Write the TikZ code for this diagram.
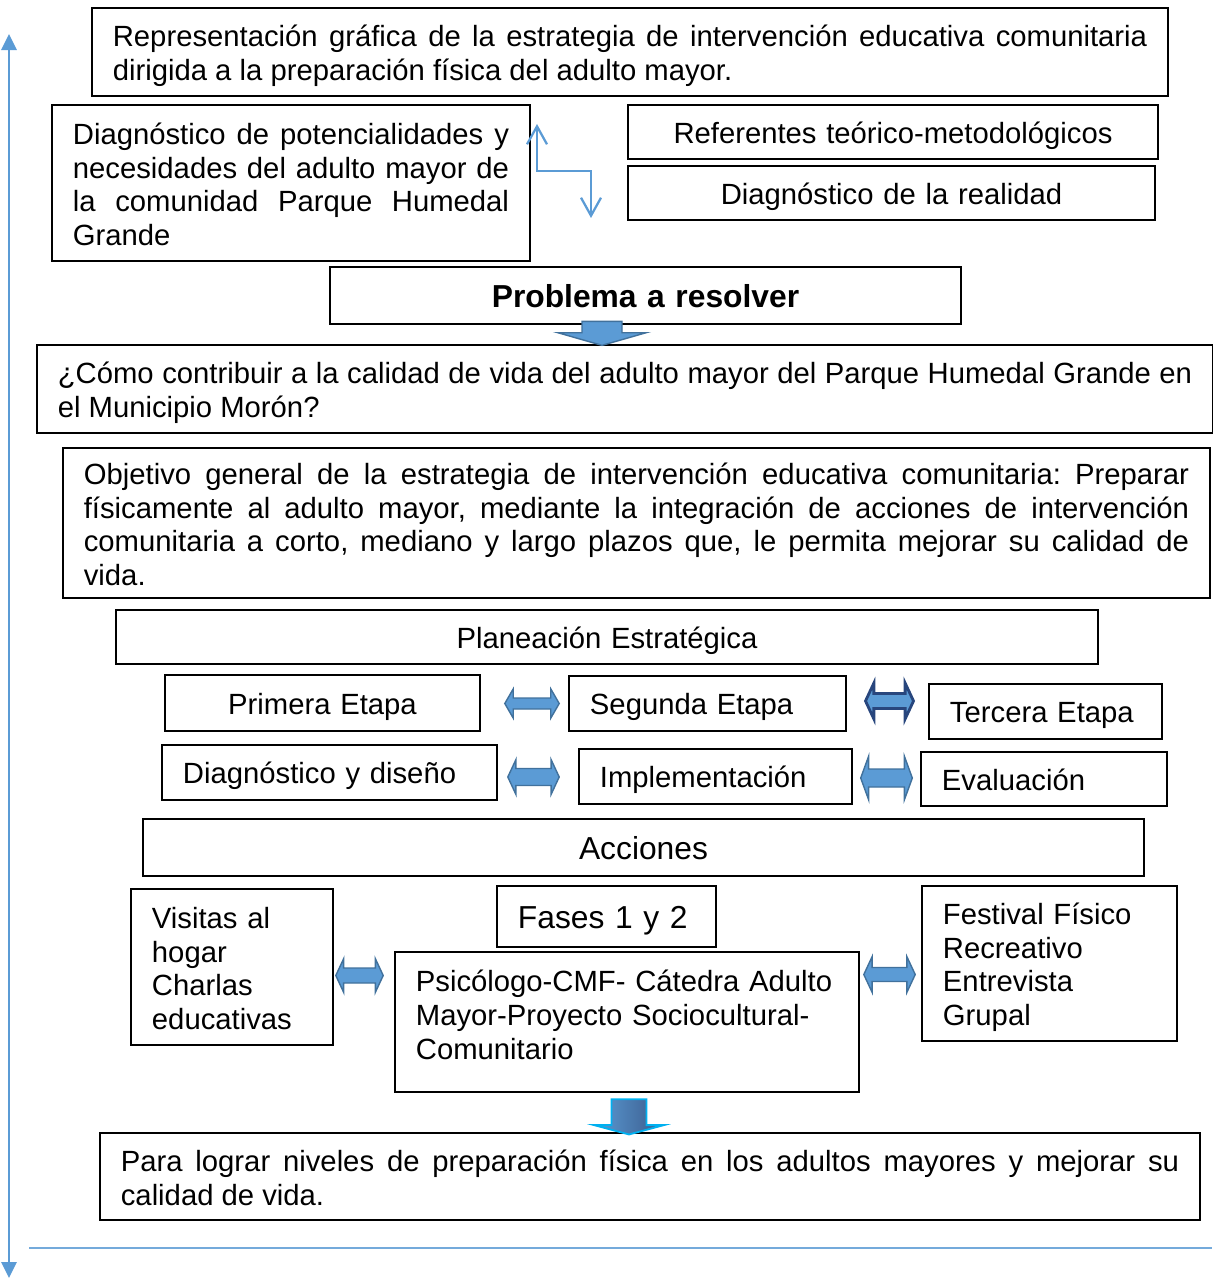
\documentclass[tikz,border=0pt]{standalone}
\usepackage{fontspec}
\setmainfont{Liberation Sans}
\usetikzlibrary{
	arrows.meta,
	shapes.arrows,
	calc
}
\definecolor{azul}{RGB}{91,155,213}
\definecolor{azulborde}{RGB}{65,113,156}
\definecolor{azuloscuro}{RGB}{40,70,125}
\definecolor{azulsombra}{RGB}{58,90,138}
\definecolor{celeste}{RGB}{0,176,240}
\hyphenpenalty=10000
\exhyphenpenalty=10000
\tolerance=9999
\frenchspacing
\newcommand{\puntal}{\lineskiplimit=-100pt\rule[-3.5pt]{0pt}{23.9pt}}
\newcommand{\puntalg}{\lineskiplimit=-100pt\rule[-4.6pt]{0pt}{26pt}}
\tikzset{
	caja/.style={draw, line width=1.3pt, inner xsep=0.525cm, inner ysep=0pt, font=\fontsize{20.8}{23.9}\selectfont,
		execute at begin node=\puntal, execute at end node=\puntal},
	cajagrande/.style={caja, font=\fontsize{22.6}{26}\selectfont,
		execute at begin node=\puntalg, execute at end node=\puntalg},
	flechadoble/.style={double arrow, draw=azulborde, fill=azul, line width=1pt, inner sep=0pt, double arrow head indent=0pt},
	flechabaja/.style={single arrow, rotate=-90, draw=azulborde, fill=azul, line width=1pt, inner sep=0pt, single arrow head indent=0pt},
	eje/.style={draw=azul, line width=2pt, {Triangle[length=0.4cm,width=0.375cm]}-{Triangle[length=0.4cm,width=0.375cm]}},
	codo/.style={draw=azul, line width=1.6pt, {Straight Barb[length=0.45cm,width=0.5cm]}-{Straight Barb[length=0.45cm,width=0.5cm]}},
	lineabase/.style={draw=azul!85, line width=1pt}
}
\begin{document}
\begin{tikzpicture}[x=0.025cm, y=-0.025cm]
	\useasboundingbox (0,0) rectangle (1212,1280);

	\node[caja, text width=25.85cm, minimum height=2.2cm, align=justify] (titulo) at (630,52) {Representación gráfica de la estrategia de intervención educativa comunitaria dirigida a la preparación física del adulto mayor.};
	\node[caja, text width=10.9cm, minimum height=3.9cm, align=justify] (diagpot) at (291,183) {Diagnóstico de potencialidades y necesidades del adulto mayor de la comunidad Parque Humedal Grande};
	\node[caja, text width=12.2cm, minimum height=1.35cm, align=center] (referentes) at (893,132) {Referentes teórico-metodológicos};
	\node[caja, text width=12.125cm, minimum height=1.35cm, align=center] (diagreal) at (891.5,193) {Diagnóstico de la realidad};
	\node[cajagrande, text width=14.725cm, minimum height=1.425cm, align=center, font=\fontsize{22.6}{26}\selectfont\bfseries] (problema) at (645.5,295.5) {Problema a resolver};
	\node[caja, text width=28.35cm, minimum height=2.2cm, align=justify] (pregunta) at (625,389) {¿Cómo contribuir a la calidad de vida del adulto mayor del Parque Humedal Grande en el Municipio Morón?};
	\node[caja, text width=27.625cm, minimum height=3.75cm, align=justify] (objetivo) at (636.5,523) {Objetivo general de la estrategia de intervención educativa comunitaria: Preparar físicamente al adulto mayor, mediante la integración de acciones de intervención comunitaria a corto, mediano y largo plazos que, le permita mejorar su calidad de vida.};
	\node[caja, text width=23.5cm, minimum height=1.35cm, align=center] (planeacion) at (607,637) {Planeación Estratégica};

	\node[caja, text width=6.825cm, minimum height=1.4cm, align=center] (etapa1) at (322.5,703) {Primera Etapa};
	\node[caja, text width=5.875cm, minimum height=1.375cm, align=left] (etapa2) at (707.5,703.5) {Segunda Etapa};
	\node[caja, text width=4.775cm, minimum height=1.375cm, align=left] (etapa3) at (1045.5,711.5) {Tercera Etapa};
	\node[caja, text width=7.325cm, minimum height=1.375cm, align=left] (diseno) at (329.5,772.5) {Diagnóstico y diseño};
	\node[caja, text width=5.775cm, minimum height=1.375cm, align=left] (implem) at (715.5,776.5) {Implementación};
	\node[caja, text width=5.1cm, minimum height=1.35cm, align=left] (evaluac) at (1044,779) {Evaluación};

	\node[cajagrande, text width=23.975cm, minimum height=1.425cm, align=center] (acciones) at (643.5,847.5) {Acciones};
	\node[caja, text width=4cm, minimum height=3.9cm, align=left] (visitas) at (232,967) {Visitas al\\hogar\\Charlas\\educativas};
	\node[cajagrande, text width=4.425cm, minimum height=1.525cm, align=left] (fases) at (606.5,916.5) {Fases 1 y 2};
	\node[caja, text width=10.55cm, minimum height=3.5cm, align=left] (psicologo) at (627,1022) {Psicólogo-CMF- Cátedra Adulto\\Mayor-Proyecto Sociocultural-\\Comunitario\\[-0.5\baselineskip]\mbox{}};
	\node[caja, text width=5.325cm, minimum height=3.875cm, align=left] (festival) at (1049.5,963.5) {Festival Físico\\Recreativo\\Entrevista\\Grupal};
	\node[caja, text width=26.45cm, minimum height=2.175cm, align=justify] (logro) at (650,1176.5) {Para lograr niveles de preparación física en los adultos mayores y mejorar su calidad de vida.};

	\node[flechabaja, minimum height=0.6cm, inner ysep=0.4825cm, single arrow head extend=0.604cm, single arrow tip angle=148] (flprob) at (602,330.5) {};
	\node[flechabaja, shading=axis, left color=azul, right color=azulsombra, draw=celeste, line width=1.3pt, minimum height=0.88cm, inner ysep=0.415cm, single arrow head extend=0.435cm, single arrow tip angle=150] (fllogro) at (629,1114.5) {};

	\node[flechadoble, minimum height=1.36cm, inner ysep=0.12cm, double arrow head extend=0.2275cm, double arrow tip angle=120] (fl12) at (532,703.5) {};
	\node[flechadoble, draw=azuloscuro, line width=2pt, minimum height=1.2cm, inner ysep=0.1525cm, double arrow head extend=0.261cm, double arrow tip angle=130] (fl23) at (889.5,701) {};
	\node[flechadoble, minimum height=1.285cm, inner ysep=0.195cm, double arrow head extend=0.224cm, double arrow tip angle=130] (fl45) at (533.5,777) {};
	\node[flechadoble, minimum height=1.29cm, inner ysep=0.2075cm, double arrow head extend=0.316cm, double arrow tip angle=140] (fl56) at (886.5,778) {};
	\node[flechadoble, minimum height=1.185cm, inner ysep=0.17cm, double arrow head extend=0.236cm, double arrow tip angle=130] (flvis) at (359.5,975.5) {};
	\node[flechadoble, minimum height=1.285cm, inner ysep=0.1575cm, double arrow head extend=0.274cm, double arrow tip angle=130] (flfes) at (889.5,974.5) {};

	\coordinate (codoa) at (537,124);
	\coordinate (codob) at (591,218);
	\draw[codo] (codoa) |- ($(codoa)!.5!(codob)$) -| (codob);

	\coordinate (ejearriba) at (9,34);
	\coordinate (ejeabajo) at (9,1278);
	\draw[eje] (ejeabajo) -- (ejearriba);

	\coordinate (basei) at (29,1248);
	\coordinate (based) at (1212,1248);
	\draw[lineabase] (basei) -- (based);
\end{tikzpicture}
\end{document}
